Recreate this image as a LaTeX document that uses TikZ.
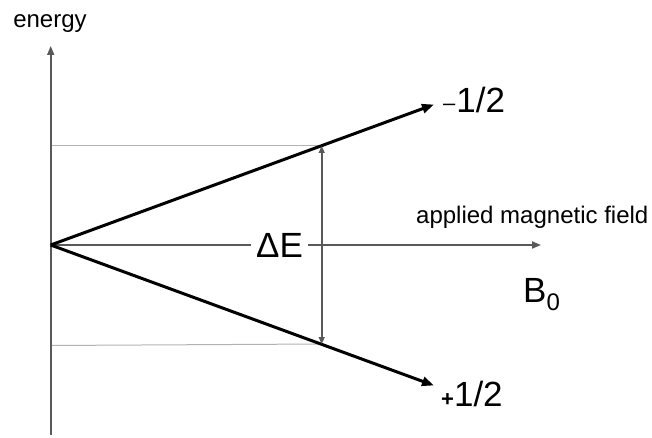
\documentclass[tikz,border=0pt]{standalone}
\usepackage{fontspec}
\setmainfont{Liberation Sans}
\usetikzlibrary{arrows.meta}
\begin{document}
\begin{tikzpicture}[x=1pt,y=-1pt,
  axis/.style={draw=black!65,line width=1.7pt,-{Triangle[length=9pt,width=7pt]}},
  level/.style={draw=black,line width=3pt,-{Triangle[length=12pt,width=9pt]}},
  guide/.style={draw=black!30,line width=1pt},
  gap/.style={draw=black!65,line width=1.6pt,{Triangle[length=7pt,width=6pt]}-{Triangle[length=7pt,width=6pt]}},
  lbl/.style={inner sep=0pt,font=\fontsize{24}{28}\selectfont},
  big/.style={inner sep=0pt,font=\fontsize{35}{40}\selectfont}]
\useasboundingbox (0,0) rectangle (652,438);
\coordinate (O) at (50.7,245);
\coordinate (ybot) at (50.7,435);
\coordinate (ytop) at (50.7,46);
\coordinate (xend) at (541,245);
\coordinate (U) at (434,104.5);
\coordinate (L) at (434,385.5);
\coordinate (A) at (321.7,146);
\coordinate (B) at (321.7,344);
\coordinate (Ag) at (50.7,146);
\coordinate (Bg) at (50.7,345.5);
% guides
\draw[guide] (Ag) -- (A);
\draw[guide] (Bg) -- (B);
% axes
\draw[axis] (ybot) -- (ytop);
\draw[axis] (O) -- (xend);
\node[big,fill=white,inner xsep=5pt,inner ysep=2pt] (dE) at (279.5,245) {ΔE};
% energy levels
\draw[level] (O) -- (U);
\draw[level] (O) -- (L);
% energy gap
\draw[gap] (B) -- (A);
% labels
\node[lbl,anchor=base] (en) at (50,28) {energy};
\node[lbl,anchor=base west] (amf) at (416,223) {applied magnetic field};
\node[big,anchor=base west] (B0) at (523,302) {B\raisebox{-8pt}{\fontsize{24}{28}\selectfont 0}};
\node[big,anchor=base west] (m) at (443,113) {\raisebox{2pt}{\fontsize{22}{28}\selectfont –}\kern1pt 1/2};
\node[big,anchor=base west] (p) at (441,406) {\raisebox{0pt}{\fontsize{22}{26}\selectfont\bfseries +}1/2};
\end{tikzpicture}
\end{document}
